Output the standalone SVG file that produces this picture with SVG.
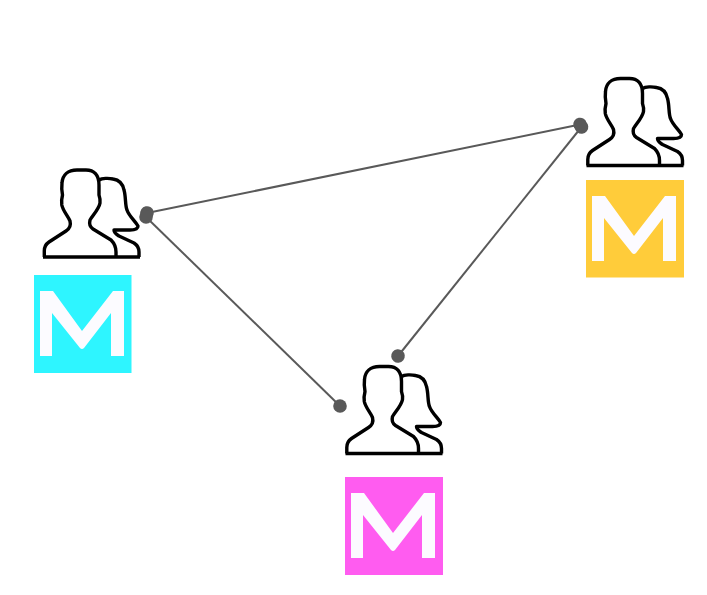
<svg xmlns="http://www.w3.org/2000/svg" width="707" height="595" viewBox="0 0 707 595">
<style>
.edge{stroke:#595959;stroke-width:2;fill:none;marker-start:url(#dot);marker-end:url(#dot)}
.ic{fill:none;stroke:#000;stroke-width:3.400;stroke-linejoin:round;stroke-linecap:butt}
.mk{fill:#fcfbff;filter:url(#soft)}
</style>
<defs>
<filter id="soft" x="-5%" y="-5%" width="110%" height="110%"><feGaussianBlur stdDeviation="0.600"/></filter>
<filter id="soft2" x="-5%" y="-5%" width="110%" height="110%"><feGaussianBlur stdDeviation="0.350"/></filter>
<marker id="dot" markerUnits="userSpaceOnUse" markerWidth="16" markerHeight="16" refX="8" refY="8" orient="auto"><circle cx="8" cy="8" r="6.800" fill="#595959"/></marker>
<g id="people" filter="url(#soft2)">
<path class="ic" d="M1.300 0V-6C1.300-10 3-13 6-15L23-26C27-28.500 28-32 27-36C25-41 20-46 18.800-52C18.300-55 18.500-58 19.500-62C18.800-66 18.500-70 19-74C19.500-82 25-87 34-87H43C51-87 56-82 56-72V-62C57-59 57.500-57 57-54C56-48 50-42 47-37C46-33 47-30 50-28L68-17C71-14 73-10 73-5V0"/>
<path class="ic" d="M56-77C59-79 66-79 70-78C77-77 80-72 81-67C83-60 82-52 84-47C86-41 92-36 95-31C95-28 91-27 87-27H71C71-24 73-23 76-21L91-14C94-12 96-9 96-5V0"/>
<path d="M0 0H97" fill="none" stroke="#000" stroke-width="3.400"/>
</g>
<path id="m" class="mk" d="M6 16H19L48 56L79 16H90V81H77V38L50 73Q48 75 46 73L18 38V81H6Z"/>
</defs>
<g id="connectors">
<line class="edge" x1="147" y1="213" x2="580" y2="124.500"/>
<line class="edge" x1="146" y1="217" x2="340" y2="406"/>
<line class="edge" x1="581.500" y1="127" x2="398" y2="356"/>
</g>
<g id="node-left">
<use href="#people" x="43" y="257"/>
<rect x="34" y="275" width="97.500" height="98" fill="#2ef5ff"/>
<use href="#m" x="34" y="275"/>
</g>
<g id="node-right">
<use href="#people" x="586.500" y="165.500"/>
<rect x="586" y="180" width="98" height="97.500" fill="#ffcc3a"/>
<use href="#m" x="586" y="180"/>
</g>
<g id="node-bottom">
<use href="#people" x="345.500" y="453.500"/>
<rect x="345" y="477" width="98" height="98" fill="#ff5cf0"/>
<use href="#m" x="345" y="477"/>
</g>
</svg>
